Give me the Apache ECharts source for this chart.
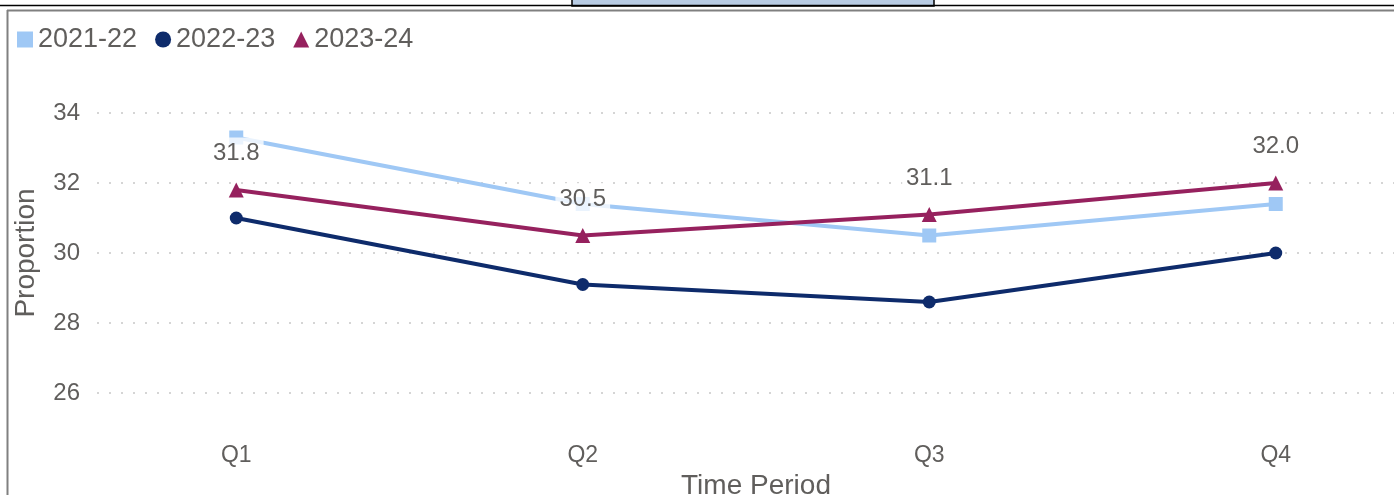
<!DOCTYPE html>
<html>
<head>
<meta charset="utf-8">
<script src="https://cdn.jsdelivr.net/npm/echarts@6/dist/echarts.min.js"></script>
<style>
  html, body { margin: 0; padding: 0; background: #fff; }
  #chart { width: 1394px; height: 495px; }
</style>
</head>
<body>
<div id="chart"></div>
<script>
const categories = ['Q1', 'Q2', 'Q3', 'Q4'];
const seriesNames = ['2021-22', '2022-23', '2023-24'];
const values2122 = [33.3, 31.4, 30.5, 31.4];
const values2223 = [31.0, 29.1, 28.6, 30.0];
const values2324 = [31.8, 30.5, 31.1, 32.0];

const textColor = '#605E5C';
const font = '"Liberation Sans", Arial, sans-serif';

const chart = echarts.init(document.getElementById('chart'));

const option = {
  animation: false,
  textStyle: { fontFamily: font },
  graphic: [
    // cut-off title box and frame lines
    { type: 'rect', shape: { x: 572, y: -2, width: 362, height: 8 },
      style: { fill: '#B8CCE4', stroke: '#000', lineWidth: 1.5 }, silent: true },
    { type: 'line', shape: { x1: 0, y1: 5.5, x2: 1394, y2: 5.5 },
      style: { stroke: '#000', lineWidth: 1.5 }, silent: true },
    { type: 'line', shape: { x1: 7, y1: 10.5, x2: 1394, y2: 10.5 },
      style: { stroke: '#808080', lineWidth: 2 }, silent: true },
    { type: 'line', shape: { x1: 7.5, y1: 10, x2: 7.5, y2: 495 },
      style: { stroke: '#808080', lineWidth: 2 }, silent: true }
  ],
  legend: {
    left: 12,
    top: 21,
    itemWidth: 16,
    itemHeight: 16,
    itemGap: 18,
    textStyle: { fontSize: 27, color: textColor, fontFamily: font },
    data: [
      { name: seriesNames[0], icon: 'rect' },
      { name: seriesNames[1], icon: 'circle' },
      { name: seriesNames[2], icon: 'triangle' }
    ]
  },
  grid: [
    { left: 63, width: 1386, top: 78, height: 350, outerBoundsMode: 'none' },
    { left: 97, width: 1297, top: 43, height: 420, outerBoundsMode: 'none' }
  ],
  xAxis: [
    {
      type: 'category',
      gridIndex: 0,
      data: categories,
      axisLine: { show: false },
      axisTick: { show: false },
      axisLabel: { fontSize: 23, color: textColor, margin: 16 },
      name: 'Time Period',
      nameLocation: 'middle',
      nameGap: 41,
      nameTextStyle: { fontSize: 28, color: textColor }
    },
    { type: 'value', gridIndex: 1, show: false }
  ],
  yAxis: [
    { type: 'value', gridIndex: 0, min: 25, max: 35, show: false },
    {
      type: 'value',
      gridIndex: 1,
      min: 24,
      max: 36,
      interval: 2,
      axisLine: { show: false },
      axisTick: { show: false },
      axisLabel: {
        fontSize: 24, color: textColor, margin: 17,
        showMinLabel: false, showMaxLabel: false
      },
      splitLine: {
        show: true,
        showMinLine: false,
        showMaxLine: false,
        lineStyle: { color: '#C8C8C8', type: [2, 10], width: 1.5 }
      },
      name: 'Proportion',
      nameLocation: 'middle',
      nameGap: 57,
      nameTextStyle: { fontSize: 28, color: textColor }
    }
  ],
  series: [
    {
      name: seriesNames[0],
      type: 'line',
      xAxisIndex: 0,
      yAxisIndex: 0,
      data: values2122,
      symbol: 'rect',
      symbolSize: 14,
      color: '#9FC8F5',
      lineStyle: { width: 4 },
      z: 2
    },
    {
      name: seriesNames[1],
      type: 'line',
      xAxisIndex: 0,
      yAxisIndex: 0,
      data: values2223,
      symbol: 'circle',
      symbolSize: 13,
      color: '#0E2B6B',
      lineStyle: { width: 4 },
      z: 3
    },
    {
      name: seriesNames[2],
      type: 'line',
      xAxisIndex: 0,
      yAxisIndex: 0,
      data: values2324,
      symbol: 'triangle',
      symbolSize: 15,
      color: '#96215E',
      lineStyle: { width: 4 },
      z: 4,
      label: {
        show: true,
        position: 'top',
        distance: 13,
        fontSize: 24,
        color: textColor,
        backgroundColor: 'rgba(255,255,255,0.78)',
        padding: [4, 4],
        formatter: (p) => p.value.toFixed(1)
      }
    }
  ]
};

chart.setOption(option);
</script>
</body>
</html>
